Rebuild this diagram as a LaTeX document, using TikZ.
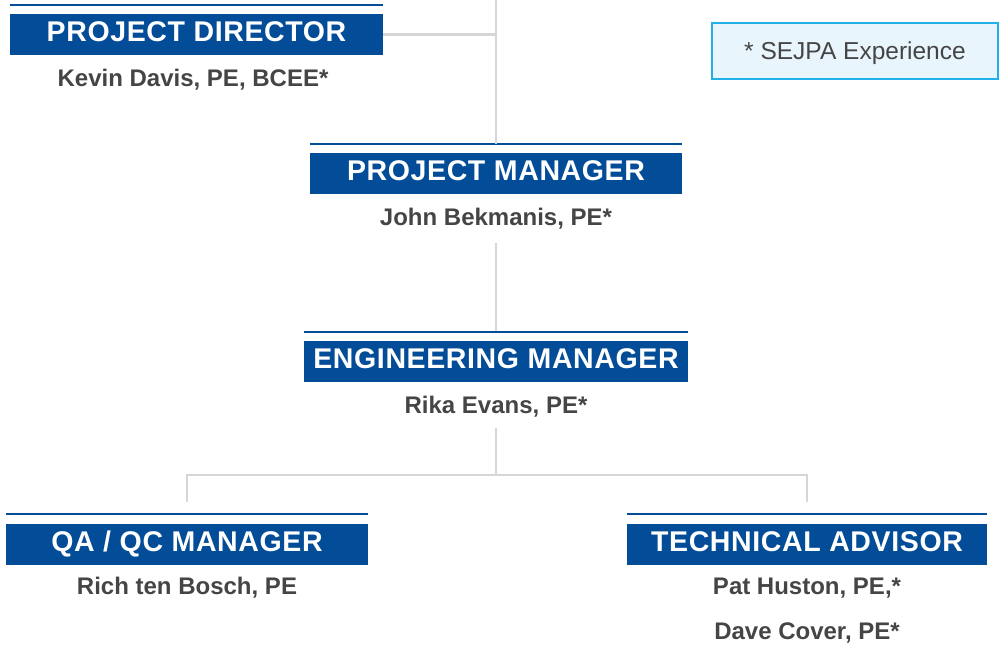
\documentclass[tikz,border=0pt]{standalone}
\usepackage{fontspec}
\setmainfont{Liberation Sans}
\newfontfamily\rolefont[LetterSpace=2.2]{Liberation Sans}
\definecolor{roleblue}{HTML}{034C97}
\definecolor{namegray}{HTML}{454545}
\definecolor{linkgray}{HTML}{D6D6D6}
\definecolor{keyfill}{HTML}{E9F5FC}
\definecolor{keyedge}{HTML}{22B0E8}
\begin{document}
\begin{tikzpicture}[x=1pt,y=-1pt,
  rolebox/.style={fill=roleblue,text=white,inner sep=0pt,minimum height=41pt,
    text height=20pt,text depth=6pt,
    font=\fontsize{28.5}{30}\rolefont\bfseries},
  rolerule/.style={draw=roleblue,line width=2.2pt},
  person/.style={text=namegray,inner sep=0pt,text height=17.2pt,text depth=0pt,
    font=\fontsize{24}{26}\selectfont\bfseries},
  link/.style={draw=linkgray,line width=2.6pt},
  keybox/.style={draw=keyedge,fill=keyfill,line width=1.8pt,inner sep=0pt,
    minimum width=286pt,minimum height=56pt,text=namegray,
    text height=17.6pt,text depth=0pt,
    font=\fontsize{24.5}{26}\selectfont}]
\useasboundingbox (0,0) rectangle (1002,650);

% role boxes
\node[rolebox,minimum width=373pt] (pd) at (196.5,34.5) {PROJECT DIRECTOR};
\node[rolebox,minimum width=372pt] (pm) at (496,173.5) {PROJECT MANAGER};
\node[rolebox,minimum width=384pt] (em) at (496,361.5) {ENGINEERING MANAGER};
\node[rolebox,minimum width=362pt] (qa) at (187,544) {QA / QC MANAGER};
\node[rolebox,minimum width=360pt] (ta) at (807,544) {TECHNICAL ADVISOR};

% thin rules above each role box
\foreach \n in {pd,pm,em,qa,ta}
  \draw[rolerule] ([yshift=9pt]\n.north west) -- ([yshift=9pt]\n.north east);

% names
\node[person] (pdn) at (193,78) {Kevin Davis, PE, BCEE*};
\node[person] (pmn) at (496,217) {John Bekmanis, PE*};
\node[person] (emn) at (496,405) {Rika Evans, PE*};
\node[person] (qan) at (187,586) {Rich ten Bosch, PE};
\node[person] (tan1) at (807,586) {Pat Huston, PE,*};
\node[person] (tan2) at (807,631) {Dave Cover, PE*};

% key
\node[keybox] (key) at (855,51) {* SEJPA Experience};

% connectors
\coordinate (top) at (496,0);
\coordinate (pmtop) at (496,144);
\coordinate (pdj) at (496,34.5);
\coordinate (emtop) at (496,331);
\coordinate (split) at (496,475);
\coordinate (qatop) at (187,502);
\coordinate (tatop) at (807,502);
\draw[link] (top) -- (pmtop);
\draw[link] (pd.east) -- (pdj);
\draw[link] (pmn.south |- 0,243) -- (emtop);
\draw[link] (496,428) -- (split);
\draw[link] (qatop) -- (qatop |- split) -- (tatop |- split) -- (tatop);
\end{tikzpicture}
\end{document}
